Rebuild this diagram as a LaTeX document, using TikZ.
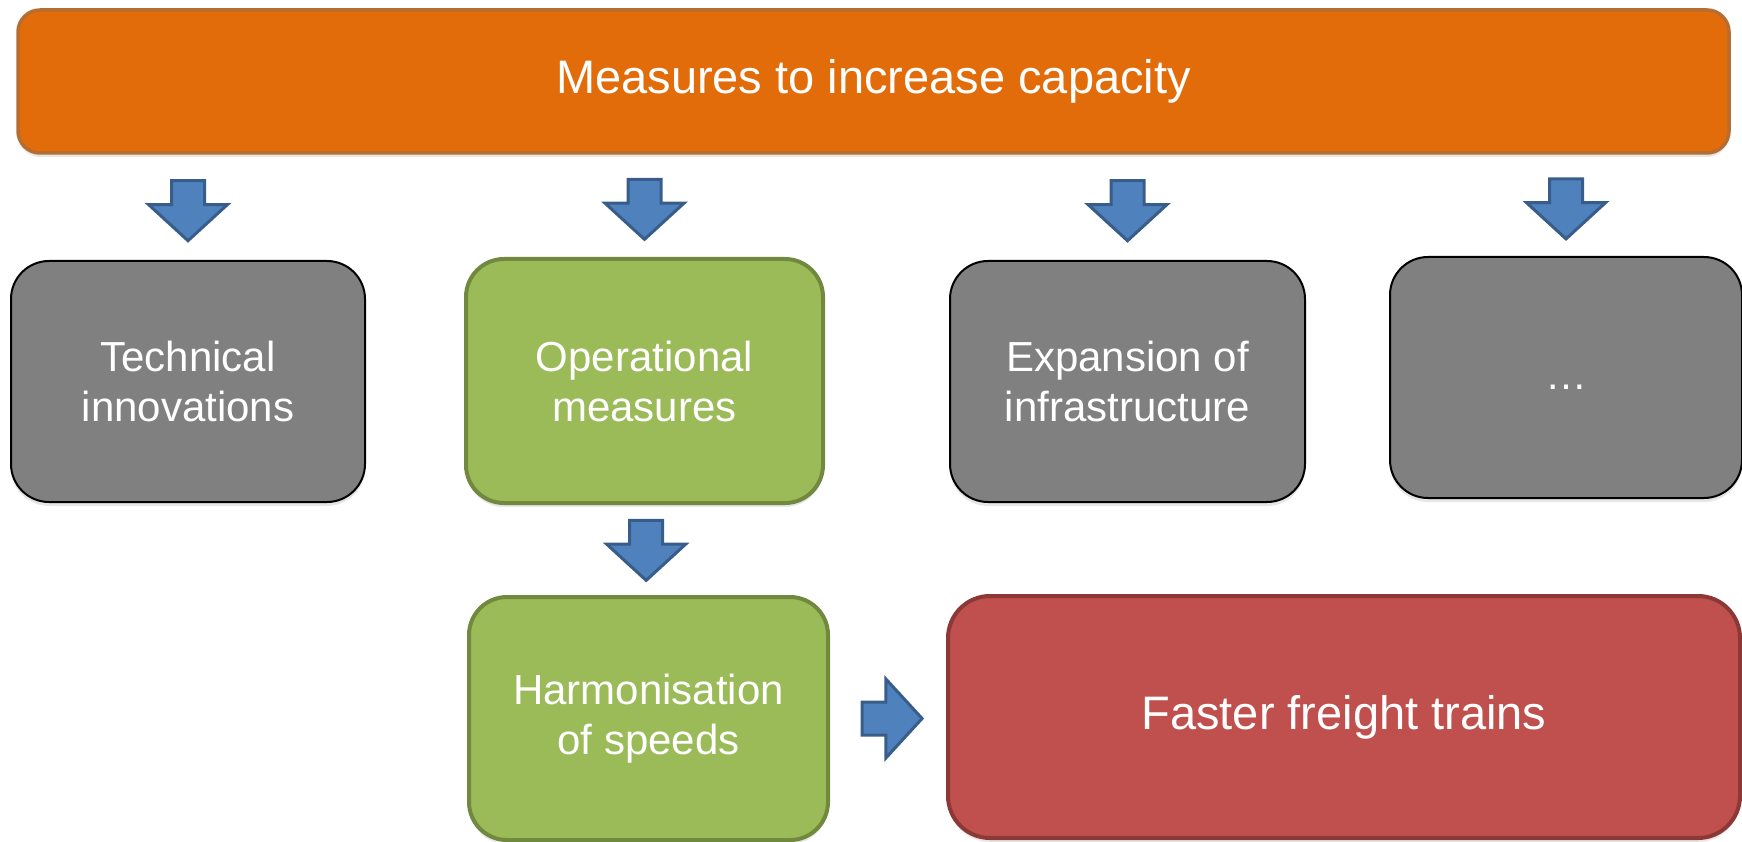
\documentclass[tikz,border=0pt]{standalone}
\usepackage{fontspec}
\setmainfont{Liberation Sans}
\usetikzlibrary{calc}
\usetikzlibrary{shapes.arrows}
\usetikzlibrary{shadows}

\definecolor{capOrange}{HTML}{E36C0A}
\definecolor{capOrangeLine}{HTML}{B66D31}
\definecolor{boxGrey}{HTML}{808080}
\definecolor{opGreen}{HTML}{9BBB59}
\definecolor{opGreenLine}{HTML}{71893F}
\definecolor{goalRed}{HTML}{C0504D}
\definecolor{goalRedLine}{HTML}{8C3836}
\definecolor{arrBlue}{HTML}{4F81BD}
\definecolor{arrBlueLine}{HTML}{385D8A}

\tikzset{
  box/.style={rectangle, rounded corners=38pt, text=white, align=center, inner sep=0pt,
    font=\fontsize{42}{50}\selectfont,
    drop shadow={shadow xshift=0pt, shadow yshift=-4pt, opacity=.2}},
  greybox/.style={box, fill=boxGrey, draw=black, line width=2pt},
  greenbox/.style={box, fill=opGreen, draw=opGreenLine, line width=4pt},
  blockarrow/.style={single arrow, fill=arrBlue, draw=arrBlueLine, line width=3pt,
    minimum height=60pt, minimum width=76pt, single arrow head extend=23pt,
    single arrow tip angle=95, inner xsep=0pt, inner ysep=15pt}
}

\begin{document}
\begin{tikzpicture}[x=1pt, y=-1pt]
      \useasboundingbox (0,0) rectangle (1742,842);

      \node[box, fill=capOrange, draw=capOrangeLine, line width=3.5pt, rounded corners=22pt,
        minimum width=1711pt, minimum height=143pt, font=\fontsize{47}{55}\selectfont]
        (top) at (873.5,81.5) {Measures to increase capacity};

      \node[greybox, minimum width=354pt, minimum height=241pt] (tech) at (188,381.5) {Technical\\innovations};
      \node[greenbox, minimum width=357pt, minimum height=244pt] (oper) at (644.5,381) {Operational\\measures};
      \node[greybox, minimum width=355pt, minimum height=241pt] (expan) at (1127.5,381.5) {Expansion of\\infrastructure};
      \node[greybox, minimum width=352pt, minimum height=241pt] (more) at (1566,377.5) {\raisebox{-24pt}{…}};

      \node[greenbox, minimum width=359pt, minimum height=243pt] (harm) at (648.5,718.5) {Harmonisation\\of speeds};
      \node[box, fill=goalRed, draw=goalRedLine, line width=4pt, rounded corners=42pt,
        minimum width=792pt, minimum height=242pt, font=\fontsize{47}{55}\selectfont]
        (fast) at (1344,717) {Faster freight trains};

      % block arrows between the boxes
      \foreach \b in {tech,oper,expan,more}
        \node[blockarrow, rotate=-90] (a-\b) at ($(top.south -| \b.north)!.46!(\b.north)$) {};
      \node[blockarrow, rotate=-90] (a-harm) at ($(oper.south)!.42!(harm.north)$) {};
      \node[blockarrow] (a-fast) at ($(harm.east)!.47!(fast.west |- harm.east)$) {};
    \end{tikzpicture}
\end{document}
